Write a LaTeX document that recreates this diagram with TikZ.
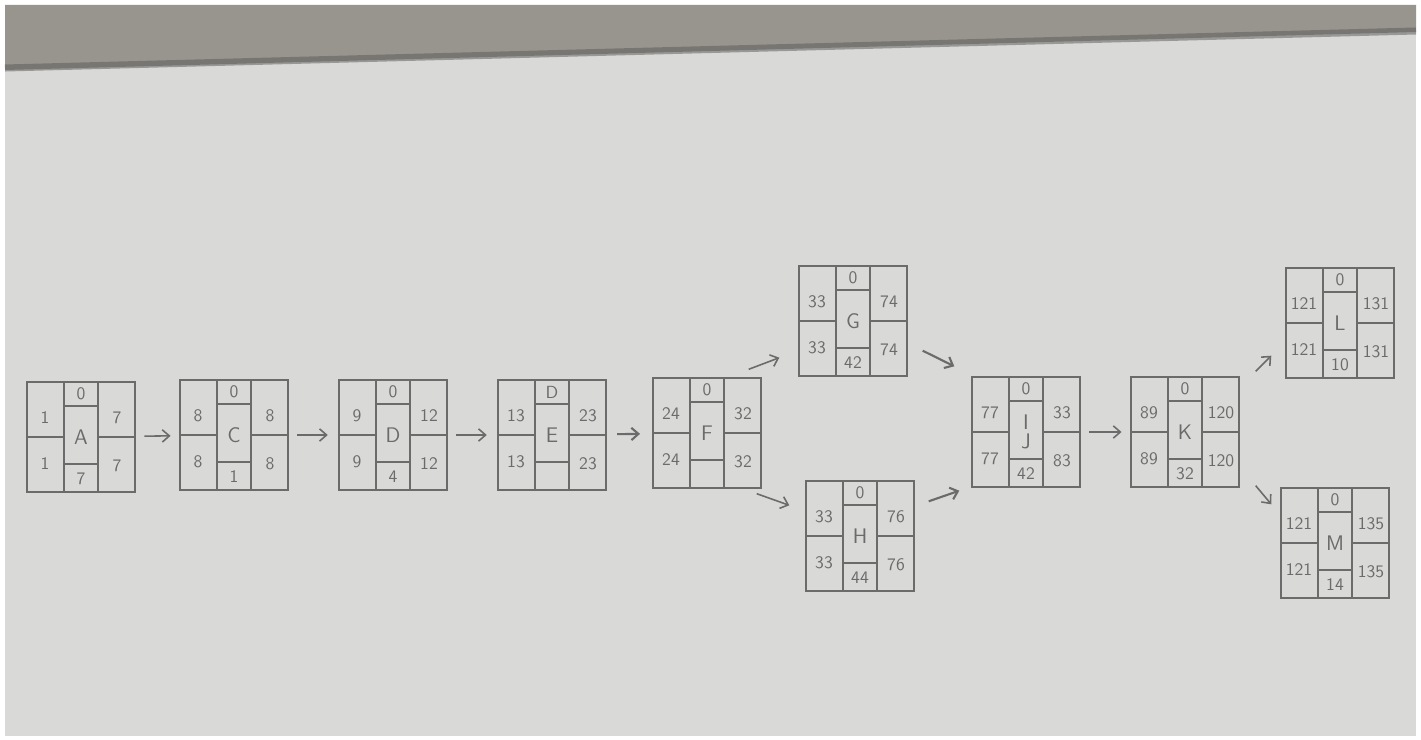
\documentclass[tikz,border=0pt]{standalone}
\usetikzlibrary{calc,arrows.meta}
\definecolor{board}{HTML}{D9D9D7}
\definecolor{wall}{HTML}{97958D}
\definecolor{pencil}{HTML}{6B6B6B}
\tikzset{
  actbox/.style = {draw=pencil, line width=0.8pt, minimum width=2.16cm, minimum height=2.2cm, inner sep=0pt},
  cell/.style = {draw=pencil, line width=0.75pt},
  num/.style = {text=pencil, font=\sffamily\fontsize{10}{11}\selectfont, inner sep=0pt},
  act/.style = {text=pencil, font=\sffamily\fontsize{12}{11}\selectfont, inner sep=0pt, align=center},
  flow/.style = {draw=pencil, line width=0.9pt, -{Straight Barb[length=4pt,width=7pt]}}
}
\begin{document}
\begin{tikzpicture}[x=0.02cm, y=-0.02cm]
\useasboundingbox (0,0) rectangle (1421,740);
\fill[white] (0,0) rectangle (1421,740);
\fill[board] (5,5) rectangle (1416,736);
\fill[wall] (5,5) -- (1416,5) -- (1416,32) -- (5,70) -- cycle;
\draw[black!65, line width=4pt, opacity=0.5] (5,68) -- (1416,31);
%
\foreach \n/\x/\y/\l/\tl/\bl/\tc/\bc/\tr/\br in {
    A/81/437/A/1/1/0/7/7/7,
    C/234/435/C/8/8/0/1/8/8,
    D/393/435/D/9/9/0/4/12/12,
    E/552/435/E/13/13/D//23/23,
    F/707/433/F/24/24/0//32/32,
    G/853/321/G/33/33/0/42/74/74,
    H/860/536/H/33/33/0/44/76/76,
    IJ/1026/432/{I\\J}/77/77/0/42/33/83,
    K/1185/432/K/89/89/0/32/120/120,
    L/1340/323/L/121/121/0/10/131/131,
    M/1335/543/M/121/121/0/14/135/135}{
  \node[actbox] (\n) at (\x,\y) {};
  \draw[cell] ($(\n)+(-17,-55)$) -- ($(\n)+(-17,55)$)
              ($(\n)+(17,-55)$) -- ($(\n)+(17,55)$)
              ($(\n)+(-54,0)$) -- ($(\n)+(-17,0)$)
              ($(\n)+(17,0)$) -- ($(\n)+(54,0)$)
              ($(\n)+(-17,-31)$) -- ($(\n)+(17,-31)$)
              ($(\n)+(-17,27)$) -- ($(\n)+(17,27)$);
  \node[act] (\n-l) at (\n) {\l};
  \node[num] (\n-tl) at ($(\n)+(-36,-19)$) {\tl};
  \node[num] (\n-bl) at ($(\n)+(-36,27)$) {\bl};
  \node[num] (\n-tc) at ($(\n)+(0,-43)$) {\tc};
  \node[num] (\n-bc) at ($(\n)+(0,42)$) {\bc};
  \node[num] (\n-tr) at ($(\n)+(36,-19)$) {\tr};
  \node[num] (\n-br) at ($(\n)+(36,29)$) {\br};
}
%
\draw[flow, shorten <=5pt, shorten >=5pt] (A) -- (C);
\draw[flow, shorten <=5pt, shorten >=6pt] (C) -- (D);
\draw[flow, shorten <=5pt, shorten >=6pt] (D) -- (E);
\draw[flow, line width=1.2pt, shorten <=6pt, shorten >=7pt] (E) -- (F);
\draw[flow] ($(F.north east)+(-13,-8)$) -- ($(G.south west)+(-19,-19)$);
\draw[flow] ($(F.south east)+(-5,5)$) -- ($(H.north west)+(-16,25)$);
\draw[flow, line width=1.2pt] ($(G.south east)+(15,-26)$) -- ($(IJ.north west)+(-17,-10)$);
\draw[flow, line width=1.2pt] ($(H.north east)+(14,21)$) -- ($(IJ.south west)+(-12,3)$);
\draw[flow, shorten <=5pt, shorten >=5pt] (IJ) -- (K);
\draw[flow] ($(K.north east)+(16,-5)$) -- ($(L.south west)+(-14,-23)$);
\draw[flow] ($(K.south east)+(16,-2)$) -- ($(M.north west)+(-9,17)$);
\end{tikzpicture}
\end{document}
